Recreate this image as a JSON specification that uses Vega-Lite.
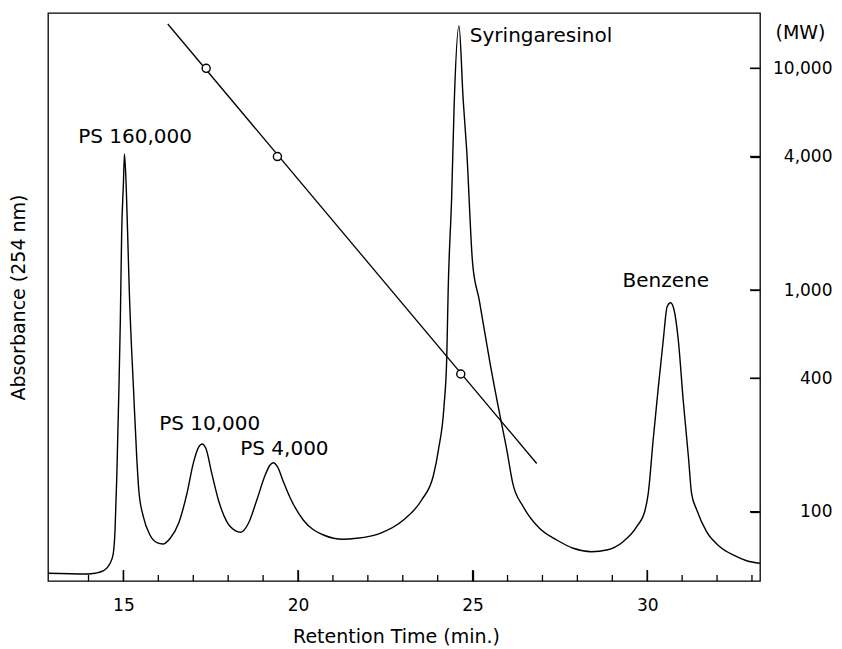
{
  "$schema": "https://vega.github.io/schema/vega-lite/v6.json",
  "width": 712,
  "height": 568,
  "autosize": {"type": "none"},
  "padding": {"left": 48, "top": 13, "right": 82, "bottom": 68},
  "background": "white",
  "config": {
    "view": {"stroke": "black", "strokeWidth": 1.3},
    "font": "DejaVu Sans",
    "axis": {"labelFont": "DejaVu Sans", "titleFont": "DejaVu Sans", "labelColor": "black", "titleColor": "black", "grid": false, "domain": false, "titleFontWeight": "normal", "labelFlush": false, "zindex": 2}
  },
  "datasets": {
    "trace": [
      {"time": 12.84, "absorbance": 1.36}, {"time": 13.95, "absorbance": 1.23}, {"time": 14.19, "absorbance": 1.36},
      {"time": 14.43, "absorbance": 1.81}, {"time": 14.62, "absorbance": 3.12}, {"time": 14.71, "absorbance": 4.88},
      {"time": 14.76, "absorbance": 8.98}, {"time": 14.81, "absorbance": 18.36}, {"time": 14.87, "absorbance": 33.63},
      {"time": 14.91, "absorbance": 45.42}, {"time": 14.95, "absorbance": 61.27}, {"time": 15.0, "absorbance": 70.07},
      {"time": 15.03, "absorbance": 75.18}, {"time": 15.08, "absorbance": 69.37}, {"time": 15.12, "absorbance": 61.27},
      {"time": 15.17, "absorbance": 50.7}, {"time": 15.29, "absorbance": 33.63}, {"time": 15.38, "absorbance": 21.9},
      {"time": 15.44, "absorbance": 16.02}, {"time": 15.57, "absorbance": 11.32}, {"time": 15.76, "absorbance": 8.1},
      {"time": 15.96, "absorbance": 6.74}, {"time": 16.13, "absorbance": 6.51}, {"time": 16.34, "absorbance": 7.52},
      {"time": 16.58, "absorbance": 10.16}, {"time": 16.82, "absorbance": 15.44}, {"time": 17.0, "absorbance": 20.72},
      {"time": 17.15, "absorbance": 23.54}, {"time": 17.25, "absorbance": 24.12}, {"time": 17.36, "absorbance": 23.36},
      {"time": 17.53, "absorbance": 18.96}, {"time": 17.72, "absorbance": 14.26}, {"time": 17.96, "absorbance": 10.44},
      {"time": 18.2, "absorbance": 8.86}, {"time": 18.36, "absorbance": 8.57}, {"time": 18.58, "absorbance": 10.16},
      {"time": 18.82, "absorbance": 14.26}, {"time": 19.06, "absorbance": 18.66}, {"time": 19.2, "absorbance": 20.42},
      {"time": 19.29, "absorbance": 20.83}, {"time": 19.41, "absorbance": 20.12}, {"time": 19.58, "absorbance": 17.48},
      {"time": 19.77, "absorbance": 14.7}, {"time": 20.15, "absorbance": 10.74}, {"time": 20.73, "absorbance": 8.1},
      {"time": 21.3, "absorbance": 7.34}, {"time": 21.68, "absorbance": 7.52}, {"time": 22.35, "absorbance": 8.4},
      {"time": 23.02, "absorbance": 10.74}, {"time": 23.54, "absorbance": 14.26}, {"time": 23.88, "absorbance": 18.66},
      {"time": 24.02, "absorbance": 23.06}, {"time": 24.18, "absorbance": 30.69}, {"time": 24.26, "absorbance": 39.49},
      {"time": 24.3, "absorbance": 51.23}, {"time": 24.4, "absorbance": 67.66}, {"time": 24.47, "absorbance": 83.5},
      {"time": 24.61, "absorbance": 97.71}, {"time": 24.73, "absorbance": 84.68}, {"time": 24.83, "absorbance": 75.88},
      {"time": 25.0, "absorbance": 55.93}, {"time": 25.19, "absorbance": 49.47}, {"time": 25.5, "absorbance": 38.33},
      {"time": 25.79, "absorbance": 28.93}, {"time": 25.98, "absorbance": 23.06}, {"time": 26.15, "absorbance": 17.2},
      {"time": 26.45, "absorbance": 13.08}, {"time": 26.93, "absorbance": 9.19}, {"time": 27.41, "absorbance": 7.22},
      {"time": 27.88, "absorbance": 5.76}, {"time": 28.41, "absorbance": 5.16}, {"time": 28.84, "absorbance": 5.46},
      {"time": 29.31, "absorbance": 6.92}, {"time": 29.7, "absorbance": 9.56}, {"time": 29.94, "absorbance": 12.5},
      {"time": 30.03, "absorbance": 15.44}, {"time": 30.17, "absorbance": 24.82}, {"time": 30.32, "absorbance": 34.21},
      {"time": 30.46, "absorbance": 42.43}, {"time": 30.57, "absorbance": 48.29}, {"time": 30.67, "absorbance": 49.0},
      {"time": 30.77, "absorbance": 47.71}, {"time": 30.89, "absorbance": 42.43}, {"time": 31.03, "absorbance": 31.87},
      {"time": 31.18, "absorbance": 21.88}, {"time": 31.27, "absorbance": 15.44}, {"time": 31.42, "absorbance": 12.5},
      {"time": 31.7, "absorbance": 8.68}, {"time": 32.08, "absorbance": 6.04}, {"time": 32.46, "absorbance": 4.58},
      {"time": 32.85, "absorbance": 3.57}, {"time": 33.23, "absorbance": 3.12}
    ],
    "labels": [
      {"time": 15.335, "absorbance": 77.1, "label": "PS 160,000"},
      {"time": 17.47, "absorbance": 26.6, "label": "PS 10,000"},
      {"time": 19.61, "absorbance": 22.1, "label": "PS 4,000"},
      {"time": 26.96, "absorbance": 94.9, "label": "Syringaresinol"},
      {"time": 30.53, "absorbance": 51.8, "label": "Benzene"}
    ],
    "major_ticks": [{"time": 15}, {"time": 20}, {"time": 25}, {"time": 30}],
    "minor_ticks": [
      {"time": 14}, {"time": 16}, {"time": 17}, {"time": 18}, {"time": 19}, {"time": 21}, {"time": 22}, {"time": 23},
      {"time": 24}, {"time": 26}, {"time": 27}, {"time": 28}, {"time": 29}, {"time": 31}, {"time": 32}, {"time": 33}
    ],
    "mw_ticks": [{"mw": 100}, {"mw": 400}, {"mw": 1000}, {"mw": 4000}, {"mw": 10000}],
    "calib_line": [
      {"time": 16.27, "mw": 15840},
      {"time": 26.835, "mw": 165}
    ],
    "calib_pts": [
      {"time": 17.37, "mw": 10000},
      {"time": 19.41, "mw": 4000},
      {"time": 24.66, "mw": 418}
    ]
  },
  "layer": [
    {
      "layer": [
        {
          "data": {"name": "trace"},
          "mark": {"type": "line", "color": "black", "strokeWidth": 1.4, "clip": true, "interpolate": "monotone"},
          "encoding": {
            "x": {
              "field": "time", "type": "quantitative",
              "scale": {"domain": [12.84, 33.23], "nice": false, "zero": false},
              "axis": {"orient": "bottom", "offset": -11, "values": [15, 20, 25, 30], "ticks": true, "tickColor": "black", "tickOpacity": 1, "tickSize": 11, "tickWidth": 1.3, "labelPadding": 16, "labelFontSize": 17, "title": "Retention Time (min.)", "titleFontSize": 19, "titleX": 348, "titleY": 66, "titleBaseline": "middle", "titleAlign": "center"}
            },
            "y": {
              "field": "absorbance", "type": "quantitative",
              "scale": {"domain": [0, 100], "nice": false},
              "axis": {"orient": "left", "title": "Absorbance (254 nm)", "labels": false, "ticks": false, "titleX": -30, "titleY": 284, "titleFontSize": 19, "titleBaseline": "middle", "titleAlign": "center"}
            }
          }
        },
        {
          "data": {"name": "major_ticks"},
          "mark": {"type": "rule", "color": "black", "strokeWidth": 1.4},
          "encoding": {
            "x": {"field": "time", "type": "quantitative"},
            "y": {"datum": 0, "type": "quantitative"},
            "y2": {"datum": 1.94}
          }
        },
        {
          "data": {"name": "minor_ticks"},
          "mark": {"type": "rule", "color": "black", "strokeWidth": 1.3},
          "encoding": {
            "x": {"field": "time", "type": "quantitative"},
            "y": {"datum": 0, "type": "quantitative"},
            "y2": {"datum": 1.06}
          }
        },
        {
          "data": {"name": "labels"},
          "mark": {"type": "text", "fontSize": 20, "color": "black", "baseline": "alphabetic", "align": "center"},
          "encoding": {
            "x": {"field": "time", "type": "quantitative"},
            "y": {"field": "absorbance", "type": "quantitative"},
            "text": {"field": "label"}
          }
        }
      ]
    },
    {
      "layer": [
        {
          "data": {"name": "calib_line"},
          "mark": {"type": "line", "color": "black", "strokeWidth": 1.3},
          "encoding": {
            "x": {
              "field": "time", "type": "quantitative",
              "axis": null
            },
            "y": {
              "field": "mw", "type": "quantitative",
              "scale": {"type": "log", "domain": [48.7, 17760], "nice": false},
              "axis": {"orient": "right", "offset": -10, "values": [100, 400, 1000, 4000, 10000], "format": ",", "ticks": true, "tickColor": "black", "tickOpacity": 1, "tickSize": 10, "tickWidth": 1.3, "labelAlign": "right", "labelPadding": 72, "labelFontSize": 17, "title": "(MW)", "titleAngle": 0, "titleX": 50, "titleY": 19, "titleAlign": "center", "titleBaseline": "middle", "titleFontSize": 19}
            }
          }
        },
        {
          "data": {"name": "mw_ticks"},
          "mark": {"type": "rule", "color": "black", "strokeWidth": 1.4},
          "encoding": {
            "y": {"field": "mw", "type": "quantitative"},
            "x": {"datum": 32.944, "type": "quantitative"},
            "x2": {"datum": 33.23}
          }
        },
        {
          "data": {"name": "calib_pts"},
          "mark": {"type": "point", "shape": "circle", "filled": true, "fill": "white", "stroke": "black", "strokeWidth": 1.4, "size": 65, "opacity": 1},
          "encoding": {
            "x": {"field": "time", "type": "quantitative"},
            "y": {"field": "mw", "type": "quantitative"}
          }
        }
      ]
    }
  ],
  "resolve": {"scale": {"y": "independent"}, "axis": {"x": "independent", "y": "independent"}}
}
